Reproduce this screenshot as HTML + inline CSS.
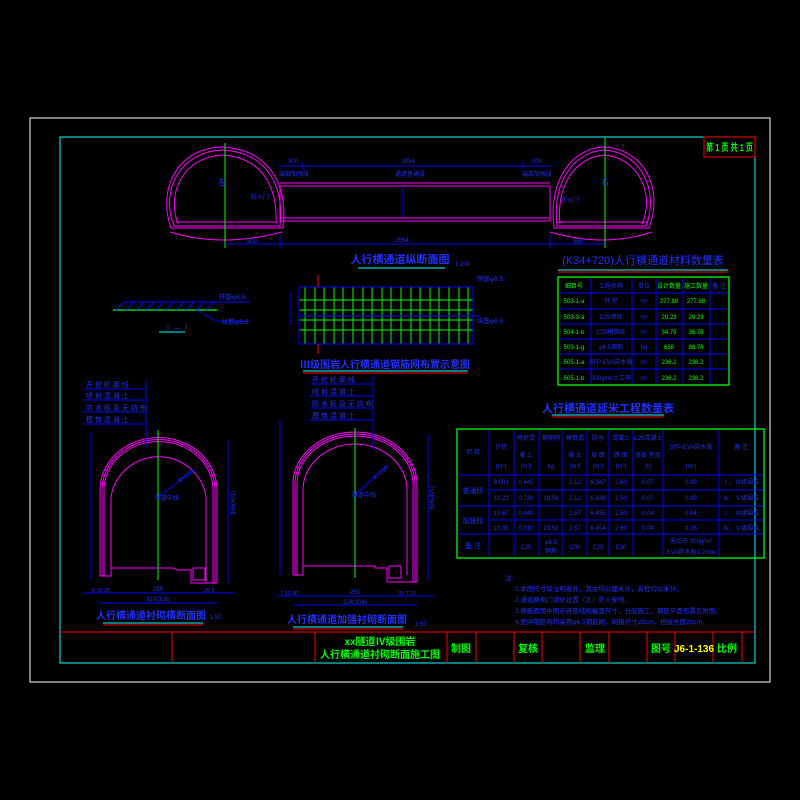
<!DOCTYPE html>
<html><head><meta charset="utf-8"><style>
html,body{margin:0;padding:0;background:#000;width:800px;height:800px;overflow:hidden}
svg text{font-family:"Liberation Sans","Noto Sans CJK SC",sans-serif;}
</style></head><body>
<svg width="800" height="800" viewBox="0 0 800 800" xmlns="http://www.w3.org/2000/svg">
<rect width="800" height="800" fill="#000"/>
<!-- frames -->
<rect x="30" y="118" width="740" height="564" fill="none" stroke="#fff" stroke-width="1"/>
<rect x="60" y="137" width="695" height="526" fill="none" stroke="#00ffff" stroke-width="1"/>
<rect x="704" y="137" width="51" height="20" fill="none" stroke="#ff0000"/>
<text x="706" y="151" fill="#00ff00" font-size="10" font-weight="bold" textLength="47" lengthAdjust="spacingAndGlyphs">第 1 页 共 1 页</text>
<!-- title bar -->
<line x1="60" y1="632" x2="755" y2="632" stroke="#ff0000"/>
<g stroke="#ff0000">
<line x1="172" y1="632" x2="172" y2="663"/><line x1="315" y1="632" x2="315" y2="663"/>
<line x1="447" y1="632" x2="447" y2="663"/><line x1="476" y1="632" x2="476" y2="663"/>
<line x1="514" y1="632" x2="514" y2="663"/><line x1="542" y1="632" x2="542" y2="663"/>
<line x1="580" y1="632" x2="580" y2="663"/><line x1="609" y1="632" x2="609" y2="663"/>
<line x1="647" y1="632" x2="647" y2="663"/><line x1="675" y1="632" x2="675" y2="663"/>
<line x1="713" y1="632" x2="713" y2="663"/><line x1="742" y1="632" x2="742" y2="663"/>
</g>
<g fill="#00ff00" font-size="10" font-weight="bold" text-anchor="middle">
<text x="380" y="645">xx隧道Ⅳ级围岩</text>
<text x="380" y="658">人行横通道衬砌断面施工图</text>
<text x="461" y="652">制图</text><text x="528" y="652">复核</text>
<text x="595" y="652">监理</text><text x="661" y="652">图号</text>
<text x="727" y="652">比例</text>
</g>
<text x="694" y="652" fill="#ffff00" font-size="10" font-weight="bold" text-anchor="middle">J6-1-136</text>

<!-- top longitudinal section -->
<g fill="none" stroke="#ff00ff" stroke-width="1">
<path d="M174,226 C160,190 180,152 222,150 C262,152 285,180 280,226 Z"/>
<path d="M171,228 C157,188 178,148 222,147 C265,149 289,180 283,228 Z"/>
<path d="M178,224 C166,192 184,157 222,155 C258,157 278,182 276,224"/>
<path d="M170,232 Q222,248 282,232"/>
<path d="M557,226 C552,180 575,152 604,150 C640,152 660,190 646,226 Z"/>
<path d="M554,228 C548,180 572,148 604,147 C644,149 664,188 649,228 Z"/>
<path d="M560,224 C556,182 578,157 604,155 C636,157 656,192 642,224"/>
<path d="M550,232 Q604,248 652,232"/>
<rect x="280" y="186" width="270" height="35"/>
<line x1="280" y1="183" x2="550" y2="183"/>
<line x1="280" y1="218" x2="550" y2="218"/>
<line x1="176" y1="222" x2="276" y2="222"/>
<line x1="556" y1="222" x2="648" y2="222"/>
</g>
<g stroke="#00ff00"><line x1="225" y1="143" x2="225" y2="248"/><line x1="605" y1="138" x2="605" y2="248"/></g>
<g stroke="#0000ff" fill="none">
<line x1="225" y1="244" x2="605" y2="244"/>
<line x1="280" y1="235" x2="280" y2="248"/><line x1="550" y1="235" x2="550" y2="248"/>
<line x1="279" y1="166" x2="552" y2="166"/>
<line x1="302" y1="162" x2="302" y2="170"/><line x1="522" y1="162" x2="522" y2="170"/>
<line x1="402" y1="186" x2="402" y2="217"/>
</g>
<g fill="#2030ff" font-size="6" text-anchor="middle">
<text x="293" y="163">300</text><text x="408" y="163">1934</text><text x="537" y="163">300</text>
<text x="294" y="176">端部加强段</text><text x="410" y="176">通道普通段</text><text x="537" y="176">端部加强段</text>
<text x="252" y="243">500</text><text x="402" y="242">2554</text><text x="578" y="243">560</text>
<text x="260" y="199">防火门</text><text x="570" y="202">防火门</text>
<text x="222" y="185" font-size="8">左</text><text x="605" y="185" font-size="8">右</text>
</g>
<text x="400" y="263" fill="#2030ff" font-size="11" font-weight="bold" text-anchor="middle">人行横通道纵断面图</text>
<text x="455" y="266" fill="#2030ff" font-size="6">1:200</text>
<line x1="358" y1="268" x2="445" y2="268" stroke="#00ffff"/>

<!-- material table 1 -->
<text x="643" y="264" fill="#2030ff" font-size="11" text-anchor="middle">(K34+720)人行横通道材料数量表</text>
<line x1="558" y1="270" x2="728" y2="270" stroke="#00ffff"/><line x1="558" y1="272" x2="728" y2="272" stroke="#ff0000"/>
<rect x="558" y="277" width="171" height="108" fill="none" stroke="#00ff00" stroke-width="1.3"/>
<g stroke="#0000ff">
<line x1="559" y1="293" x2="728" y2="293"/><line x1="559" y1="309" x2="728" y2="309"/>
<line x1="559" y1="324" x2="728" y2="324"/><line x1="559" y1="339" x2="728" y2="339"/>
<line x1="559" y1="354" x2="728" y2="354"/><line x1="559" y1="369" x2="728" y2="369"/>
<line x1="591" y1="278" x2="591" y2="384"/><line x1="632" y1="278" x2="632" y2="384"/>
<line x1="656" y1="278" x2="656" y2="384"/><line x1="683" y1="278" x2="683" y2="384"/>
<line x1="710" y1="278" x2="710" y2="384"/>
</g>
<g font-size="6" text-anchor="middle">
<g fill="#00ff00"><text x="574" y="288">细目号</text><text x="574" y="303">503-1-a</text><text x="574" y="319">503-3-a</text><text x="574" y="334">504-1-b</text><text x="574" y="349">503-1-g</text><text x="574" y="364">505-1-a</text><text x="574" y="380">505-1-b</text>
<text x="669" y="288">设计数量</text><text x="669" y="303">277.88</text><text x="669" y="319">20.23</text><text x="669" y="334">34.79</text><text x="669" y="349">638</text><text x="669" y="364">236.2</text><text x="669" y="380">236.2</text>
<text x="696" y="288">施工数量</text><text x="696" y="303">277.88</text><text x="696" y="319">20.23</text><text x="696" y="334">36.78</text><text x="696" y="349">88.78</text><text x="696" y="364">236.2</text><text x="696" y="380">236.2</text></g>
<g fill="#2030ff"><text x="611" y="288">工程名称</text><text x="611" y="303">开 挖</text><text x="611" y="319">C25喷砼</text><text x="611" y="334">C25模筑砼</text><text x="611" y="349">φ6.5钢筋</text><text x="611" y="364">SFP-EVA防水板</text><text x="611" y="380">300g/m²土工布</text>
<text x="644" y="288">单位</text><text x="644" y="303">m³</text><text x="644" y="319">m³</text><text x="644" y="334">m³</text><text x="644" y="349">kg</text><text x="644" y="364">m²</text><text x="644" y="380">m²</text><text x="719" y="288">备 注</text></g>
</g>

<!-- table 2 -->
<text x="608" y="412" fill="#2030ff" font-size="11" font-weight="bold" text-anchor="middle">人行横通道延米工程数量表</text>
<line x1="552" y1="415" x2="664" y2="415" stroke="#00ffff"/><line x1="552" y1="417" x2="664" y2="417" stroke="#ff0000"/>
<rect x="457" y="429" width="307" height="129" fill="none" stroke="#00ff00" stroke-width="1.3"/>
<g stroke="#0000ff">
<line x1="458" y1="475" x2="763" y2="475"/><line x1="458" y1="506" x2="763" y2="506"/><line x1="458" y1="534" x2="763" y2="534"/>
<line x1="489" y1="490" x2="763" y2="490"/><line x1="489" y1="520" x2="763" y2="520"/>
<line x1="489" y1="430" x2="489" y2="557"/><line x1="514" y1="430" x2="514" y2="557"/><line x1="539" y1="430" x2="539" y2="557"/>
<line x1="562" y1="430" x2="562" y2="557"/><line x1="587" y1="430" x2="587" y2="557"/><line x1="609" y1="430" x2="609" y2="557"/>
<line x1="633" y1="430" x2="633" y2="557"/><line x1="663" y1="430" x2="663" y2="557"/><line x1="719" y1="430" x2="719" y2="557"/>
</g>
<g fill="#2030ff" font-size="6" text-anchor="middle">
<text x="473" y="454">项 目</text><text x="501" y="449">开挖</text><text x="526" y="440">喷射混</text><text x="526" y="457">凝 土</text>
<text x="551" y="440">钢筋网</text><text x="575" y="440">模筑混</text><text x="575" y="457">凝 土</text>
<text x="598" y="440">防水</text><text x="598" y="457">层 面</text><text x="621" y="440">混凝土</text><text x="621" y="457">路 面</text>
<text x="648" y="440">C25混凝土</text><text x="648" y="457">底板 垫层</text><text x="691" y="449">SFP-EVA防水板</text><text x="741" y="449">备 注</text>
<text x="501" y="468">(m³)</text><text x="526" y="468">(m³)</text><text x="551" y="468">kg</text><text x="575" y="468">(m³)</text><text x="598" y="468">(m²)</text><text x="621" y="468">(m³)</text><text x="648" y="468">(t)</text><text x="691" y="468">(m²)</text>
<text x="473" y="493" font-size="7">普通段</text><text x="473" y="523" font-size="7">加强段</text><text x="473" y="548" font-size="7">备 注</text>
<text x="501" y="484">9.503</text><text x="526" y="484">0.445</text><text x="575" y="484">2.12</text><text x="598" y="484">6.347</text><text x="621" y="484">2.60</text><text x="648" y="484">0.07</text><text x="691" y="484">0.00</text><text x="741" y="484">Ⅰ、Ⅲ级围岩</text>
<text x="501" y="500">10.23</text><text x="526" y="500">0.730</text><text x="551" y="500">18.56</text><text x="575" y="500">2.12</text><text x="598" y="500">6.438</text><text x="621" y="500">2.50</text><text x="648" y="500">0.07</text><text x="691" y="500">0.00</text><text x="741" y="500">Ⅳ、Ⅴ级围岩</text>
<text x="501" y="515">10.67</text><text x="526" y="515">0.840</text><text x="575" y="515">2.57</text><text x="598" y="515">6.455</text><text x="621" y="515">2.50</text><text x="648" y="515">0.04</text><text x="691" y="515">0.04</text><text x="741" y="515">Ⅰ、Ⅲ级围岩</text>
<text x="501" y="530">10.85</text><text x="526" y="530">0.810</text><text x="551" y="530">23.53</text><text x="575" y="530">2.57</text><text x="598" y="530">6.454</text><text x="621" y="530">2.60</text><text x="648" y="530">0.04</text><text x="691" y="530">0.05</text><text x="741" y="530">Ⅳ、Ⅴ级围岩</text>
<text x="526" y="549">C25</text><text x="551" y="544">φ6.5</text><text x="551" y="553">钢筋</text><text x="575" y="549">C30</text><text x="598" y="549">C25</text><text x="621" y="549">C30</text>
<text x="691" y="543">无纺布 300g/m²</text><text x="691" y="554">EVA防水板1.2mm</text>
</g>

<!-- notes -->
<g fill="#2030ff" font-size="6.5">
<text x="505" y="580">注:</text>
<text x="515" y="591">1.本图尺寸除注明者外，其余均以厘米计，高程均以米计。</text>
<text x="515" y="602">2.通道两侧门洞处设置（孔）防火卷帘。</text>
<text x="515" y="613">3.横断面图中图示各部结构截面尺寸，分层施工，钢筋平面布置见附图。</text>
<text x="515" y="624">4.图中钢筋网均采用φ6.5钢筋网，网格尺寸25cm，搭接长度20cm。</text>
</g>

<!-- section I-I -->
<line x1="113" y1="310" x2="217" y2="310" stroke="#00ff00" stroke-width="1.3"/>
<line x1="124" y1="302" x2="250" y2="302" stroke="#0000ff"/>
<g stroke="#0000ff">
<path d="M116,310 L124,302 M126,310 L134,302 M136,310 L144,302 M146,310 L154,302 M156,310 L164,302 M166,310 L174,302 M176,310 L184,302 M186,310 L194,302 M196,310 L204,302 M206,310 L214,302"/>
<path d="M197,310 L216,321 L250,321"/>
</g>
<g fill="#2030ff" font-size="6.5"><text x="219" y="299">环筋φ6.5</text><text x="222" y="324">纵筋φ6.5</text></g>
<text x="177" y="330" fill="#2030ff" font-size="7" text-anchor="middle">Ⅰ — Ⅰ</text>
<line x1="159" y1="332" x2="185" y2="332" stroke="#00ffff"/>

<!-- rebar grid -->
<g stroke="#00ff00" stroke-width="1">
<line x1="299" y1="287" x2="473" y2="287"/><line x1="299" y1="300" x2="473" y2="300"/><line x1="299" y1="310" x2="473" y2="310"/>
<line x1="299" y1="320" x2="473" y2="320"/><line x1="299" y1="330" x2="473" y2="330"/><line x1="299" y1="344" x2="473" y2="344"/>
</g>
<g stroke="#00ff00">
<line x1="305" y1="287" x2="305" y2="344"/><line x1="315" y1="287" x2="315" y2="344"/><line x1="324" y1="287" x2="324" y2="344"/>
<line x1="334" y1="287" x2="334" y2="344"/><line x1="343" y1="287" x2="343" y2="344"/><line x1="353" y1="287" x2="353" y2="344"/>
<line x1="363" y1="287" x2="363" y2="344"/><line x1="372" y1="287" x2="372" y2="344"/><line x1="382" y1="287" x2="382" y2="344"/>
<line x1="391" y1="287" x2="391" y2="344"/><line x1="401" y1="287" x2="401" y2="344"/><line x1="411" y1="287" x2="411" y2="344"/>
<line x1="420" y1="287" x2="420" y2="344"/><line x1="430" y1="287" x2="430" y2="344"/><line x1="439" y1="287" x2="439" y2="344"/>
<line x1="449" y1="287" x2="449" y2="344"/><line x1="459" y1="287" x2="459" y2="344"/><line x1="468" y1="287" x2="468" y2="344"/>
</g>
<rect x="299" y="287" width="174" height="57" fill="none" stroke="#0000ff"/>
<line x1="299" y1="316" x2="480" y2="316" stroke="#0000ff"/>
<line x1="291" y1="292" x2="291" y2="325" stroke="#0000ff"/>
<line x1="318" y1="275" x2="318" y2="287" stroke="#ff0000"/><line x1="318" y1="344" x2="318" y2="354" stroke="#ff0000"/>
<g fill="#2030ff" font-size="6.5"><text x="477" y="281">环筋φ6.5</text><text x="477" y="323">纵筋φ6.5</text></g>
<text x="385" y="368" fill="#2030ff" font-size="10" font-weight="bold" text-anchor="middle">Ⅲ级围岩人行横通道钢筋网布置示意图</text>
<line x1="303" y1="371" x2="468" y2="371" stroke="#00ffff"/><line x1="303" y1="373" x2="468" y2="373" stroke="#ff0000"/>

<!-- lower left tunnel -->
<g fill="none" stroke="#ff00ff">
<path d="M100,576 L100,490 A58,52 0 0 1 217,490 L217,583"/>
<path d="M102,576 L102,490 A56,50 0 0 1 215,490 L215,583"/>
<path d="M104,576 L104,490 A54,48 0 0 1 213,490 L213,583"/>
<path d="M111,576 L111,497 A48,47 0 0 1 206,497 L206,583"/>
<path d="M100,576 L111,576 M111,568 L173,568 L178,570 L191,570 L191,583 L217,583"/>
<rect x="193" y="568" width="12" height="12"/>
</g>
<g stroke="#00ff00"><line x1="158" y1="430" x2="158" y2="580"/></g>
<g stroke="#0000ff" fill="none">
<line x1="91" y1="432" x2="91" y2="580"/><line x1="228" y1="440" x2="228" y2="583"/>
<line x1="158" y1="497" x2="195" y2="469"/>
<line x1="83" y1="593" x2="234" y2="593"/><line x1="100" y1="603" x2="217" y2="603"/>
<line x1="83" y1="389" x2="146" y2="389"/><line x1="83" y1="400" x2="146" y2="400"/><line x1="83" y1="412" x2="146" y2="412"/><line x1="83" y1="424" x2="146" y2="424"/>
<line x1="146" y1="380" x2="146" y2="448"/>
</g>
<g fill="#2030ff" font-size="7">
<text x="86" y="387">开 挖 轮 廓 线</text><text x="86" y="398">喷 射 混 凝 土</text><text x="86" y="410">防 水 板 及 无 纺 布</text><text x="86" y="422">模 筑 混 凝 土</text>
<text x="180" y="483" font-size="6" transform="rotate(-38 180 483)">R=150</text>
<text x="155" y="500" font-size="6">隧道中线</text>
<text x="92" y="592" font-size="5.5">5 10 25</text><text x="158" y="591" font-size="6" text-anchor="middle">255</text><text x="204" y="592" font-size="5.5">20 5</text>
<text x="158" y="601" font-size="6" text-anchor="middle">310(316)</text>
<text x="235" y="515" font-size="6" transform="rotate(-90 235 515)">395(401)</text>
</g>
<text x="151" y="619" fill="#2030ff" font-size="10" font-weight="bold" text-anchor="middle">人行横通道衬砌横断面图</text>
<text x="210" y="619" fill="#2030ff" font-size="6">1:50</text>
<line x1="103" y1="623" x2="203" y2="623" stroke="#00ffff"/><line x1="103" y1="625" x2="203" y2="625" stroke="#ff0000"/>

<!-- lower right tunnel -->
<g fill="none" stroke="#ff00ff">
<path d="M293,575 L293,484 A62,52 0 0 1 417,484 L417,582"/>
<path d="M295,575 L295,484 A60,50 0 0 1 415,484 L415,582"/>
<path d="M297,575 L297,484 A58,48 0 0 1 413,484 L413,582"/>
<path d="M303,575 L303,490 A52,46 0 0 1 407,490 L407,575"/>
<path d="M293,575 L303,575 M303,566 L375,566 L375,568 L387,568 L387,582 L417,582"/>
<rect x="389" y="566" width="12" height="12"/>
</g>
<g stroke="#00ff00"><line x1="355" y1="428" x2="355" y2="578"/></g>
<g stroke="#0000ff" fill="none">
<line x1="280" y1="420" x2="280" y2="575"/><line x1="428" y1="434" x2="428" y2="580"/>
<line x1="355" y1="495" x2="388" y2="465"/>
<line x1="278" y1="596" x2="433" y2="596"/><line x1="293" y1="605" x2="417" y2="605"/>
<line x1="310" y1="384" x2="373" y2="384"/><line x1="310" y1="396" x2="373" y2="396"/><line x1="310" y1="408" x2="373" y2="408"/><line x1="310" y1="420" x2="373" y2="420"/>
<line x1="373" y1="376" x2="373" y2="450"/>
</g>
<g fill="#2030ff" font-size="7">
<text x="312" y="382">开 挖 轮 廓 线</text><text x="312" y="394">喷 射 混 凝 土</text><text x="312" y="406">防 水 板 及 无 纺 布</text><text x="312" y="418">模 筑 混 凝 土</text>
<text x="375" y="480" font-size="6" transform="rotate(-40 375 480)">R=155</text>
<text x="352" y="497" font-size="6">隧道中线</text>
<text x="280" y="595" font-size="5.5">7 10 30</text><text x="355" y="594" font-size="6" text-anchor="middle">250</text><text x="398" y="595" font-size="5.5">30 7 10</text>
<text x="355" y="604" font-size="6" text-anchor="middle">324(334)</text>
<text x="434" y="510" font-size="6" transform="rotate(-90 434 510)">395(401)</text>
</g>
<text x="347" y="623" fill="#2030ff" font-size="10" font-weight="bold" text-anchor="middle">人行横通道加强衬砌断面图</text>
<text x="415" y="626" fill="#2030ff" font-size="6">1:50</text>
<line x1="293" y1="627" x2="403" y2="627" stroke="#00ffff"/><line x1="293" y1="629" x2="403" y2="629" stroke="#ff0000"/>
</svg>
</body></html>
